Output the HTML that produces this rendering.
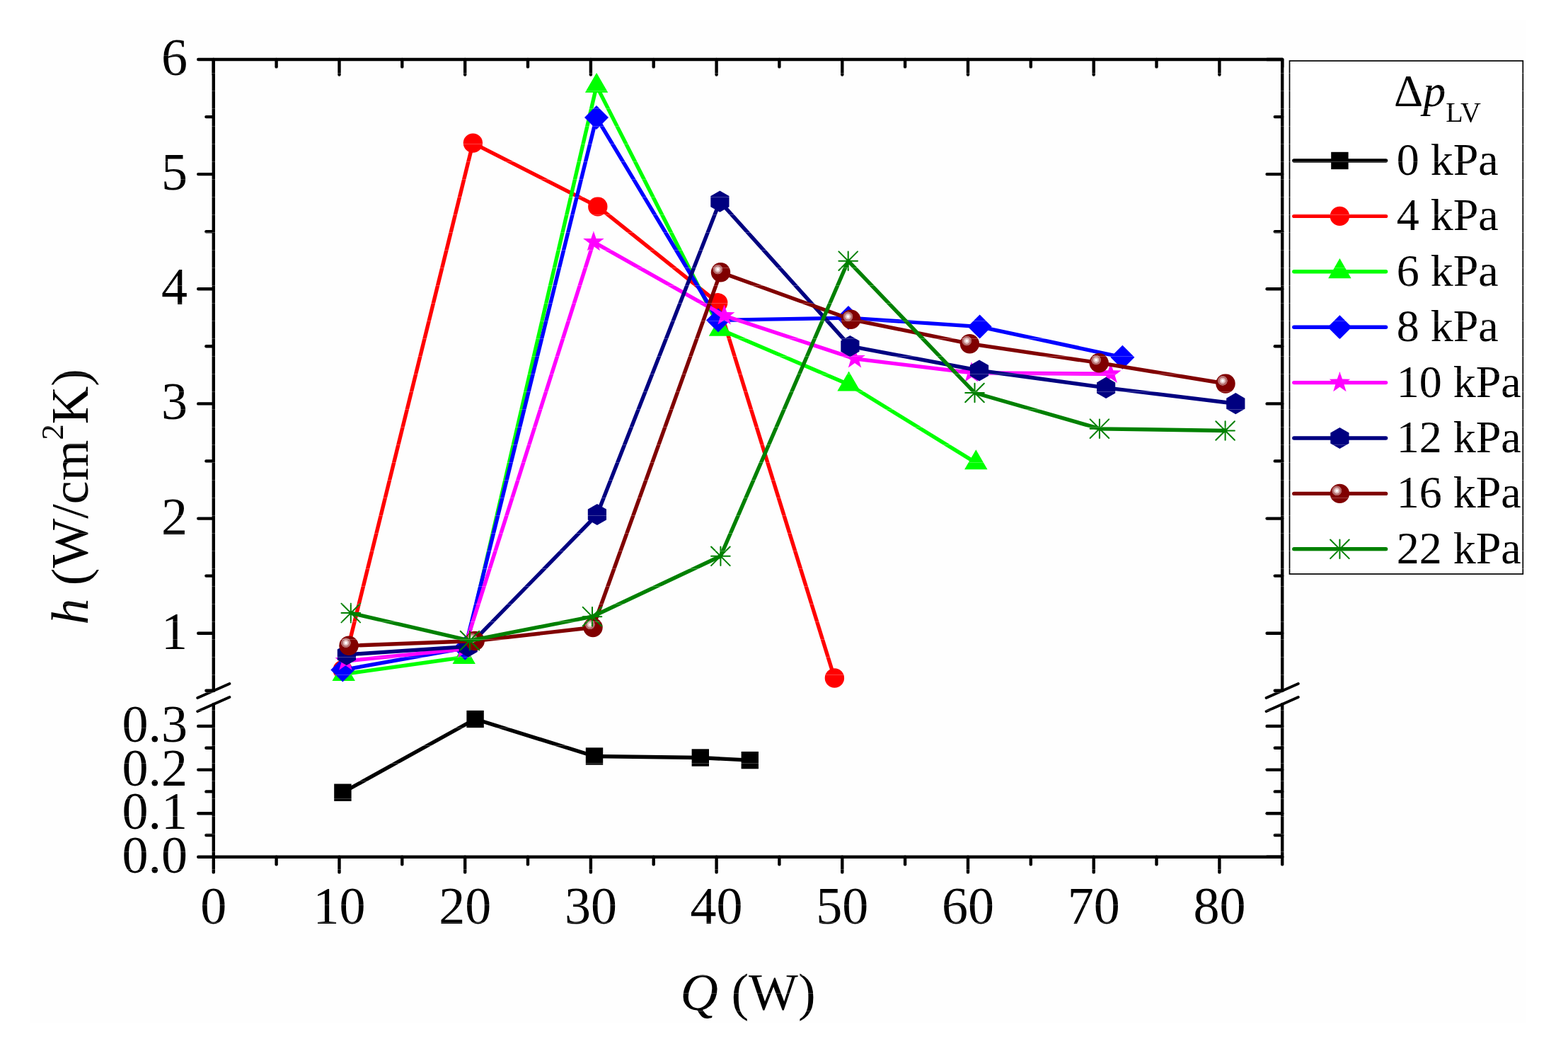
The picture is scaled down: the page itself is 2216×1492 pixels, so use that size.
<!DOCTYPE html>
<html><head><meta charset="utf-8"><title>h vs Q</title>
<style>html,body{margin:0;padding:0;background:#fff;}svg{display:block;}
text{font-family:'Liberation Serif','Times New Roman',serif;fill:#000;}</style></head><body>
<svg width="2216" height="1492" viewBox="0 0 2216 1492">
<defs>
<radialGradient id="hl" cx="0.5" cy="0.5" r="0.5">
<stop offset="0" stop-color="#ffffff"/><stop offset="0.18" stop-color="#ffffff"/>
<stop offset="0.32" stop-color="#e6c8c8"/><stop offset="0.55" stop-color="#d8b0b0"/>
<stop offset="0.62" stop-color="#b87272"/><stop offset="0.92" stop-color="#b06666"/>
<stop offset="1" stop-color="#800000"/>
</radialGradient>
</defs>
<rect x="0" y="0" width="2216" height="1492" fill="#ffffff"/>
<rect x="43" y="28" width="2113" height="1418" fill="#fefefe"/>

<g>
<polyline points="484.4,1119.7 671.6,1016.0 840.0,1068.5 989.8,1070.5 1059.8,1074.1" fill="none" stroke="#000000" stroke-width="5.4" stroke-linejoin="round" stroke-linecap="round"/>
<rect x="472.2" y="1107.5" width="24.4" height="24.4" fill="#000000"/>
<rect x="659.4" y="1003.8" width="24.4" height="24.4" fill="#000000"/>
<rect x="827.8" y="1056.3" width="24.4" height="24.4" fill="#000000"/>
<rect x="977.6" y="1058.3" width="24.4" height="24.4" fill="#000000"/>
<rect x="1047.6" y="1061.9" width="24.4" height="24.4" fill="#000000"/>
</g>
<g>
<polyline points="484.2,946.5 668.4,202.1 844.8,291.9 1014.7,427.8 1179.4,958.0" fill="none" stroke="#ff0000" stroke-width="5.4" stroke-linejoin="round" stroke-linecap="round"/>
<circle cx="484.2" cy="946.5" r="13.7" fill="#ff0000"/>
<circle cx="668.4" cy="202.1" r="13.7" fill="#ff0000"/>
<circle cx="844.8" cy="291.9" r="13.7" fill="#ff0000"/>
<circle cx="1014.7" cy="427.8" r="13.7" fill="#ff0000"/>
<circle cx="1179.4" cy="958.0" r="13.7" fill="#ff0000"/>
</g>
<g>
<polyline points="485.7,952.5 655.7,928.5 843.1,121.4 1018.0,465.4 1199.6,543.2 1379.3,653.9" fill="none" stroke="#00ff00" stroke-width="5.4" stroke-linejoin="round" stroke-linecap="round"/>
<polygon points="485.7,933.8 501.9,961.9 469.5,961.9" fill="#00ff00"/>
<polygon points="655.7,909.8 671.9,937.9 639.5,937.9" fill="#00ff00"/>
<polygon points="843.1,102.7 859.3,130.8 826.9,130.8" fill="#00ff00"/>
<polygon points="1018.0,446.7 1034.2,474.8 1001.8,474.8" fill="#00ff00"/>
<polygon points="1199.6,524.5 1215.8,552.6 1183.4,552.6" fill="#00ff00"/>
<polygon points="1379.3,635.2 1395.5,663.2 1363.1,663.2" fill="#00ff00"/>
</g>
<g>
<polyline points="484.3,946.6 657.3,915.7 843.0,166.0 1015.0,452.5 1199.0,449.1 1384.6,461.6 1586.4,504.8" fill="none" stroke="#0000ff" stroke-width="5.4" stroke-linejoin="round" stroke-linecap="round"/>
<polygon points="484.3,929.6 501.3,946.6 484.3,963.6 467.3,946.6" fill="#0000ff"/>
<polygon points="657.3,898.7 674.3,915.7 657.3,932.7 640.3,915.7" fill="#0000ff"/>
<polygon points="843.0,149.0 860.0,166.0 843.0,183.0 826.0,166.0" fill="#0000ff"/>
<polygon points="1015.0,435.5 1032.0,452.5 1015.0,469.5 998.0,452.5" fill="#0000ff"/>
<polygon points="1199.0,432.1 1216.0,449.1 1199.0,466.1 1182.0,449.1" fill="#0000ff"/>
<polygon points="1384.6,444.6 1401.6,461.6 1384.6,478.6 1367.6,461.6" fill="#0000ff"/>
<polygon points="1586.4,487.8 1603.4,504.8 1586.4,521.8 1569.4,504.8" fill="#0000ff"/>
</g>
<g>
<polyline points="488.4,934.1 656.0,916.9 838.9,341.9 1023.6,446.0 1208.0,506.9 1373.0,526.8 1569.7,528.3" fill="none" stroke="#ff00ff" stroke-width="5.4" stroke-linejoin="round" stroke-linecap="round"/>
<polygon points="488.4,918.5 492.0,929.1 503.2,929.3 494.3,936.0 497.6,946.7 488.4,940.3 479.2,946.7 482.5,936.0 473.6,929.3 484.8,929.1" fill="#ff00ff"/>
<polygon points="656.0,901.3 659.6,911.9 670.8,912.1 661.9,918.8 665.2,929.5 656.0,923.1 646.8,929.5 650.1,918.8 641.2,912.1 652.4,911.9" fill="#ff00ff"/>
<polygon points="838.9,326.3 842.5,336.9 853.7,337.1 844.8,343.8 848.1,354.5 838.9,348.1 829.7,354.5 833.0,343.8 824.1,337.1 835.3,336.9" fill="#ff00ff"/>
<polygon points="1023.6,430.4 1027.2,441.0 1038.4,441.2 1029.5,447.9 1032.8,458.6 1023.6,452.2 1014.4,458.6 1017.7,447.9 1008.8,441.2 1020.0,441.0" fill="#ff00ff"/>
<polygon points="1208.0,491.3 1211.6,501.9 1222.8,502.1 1213.9,508.8 1217.2,519.5 1208.0,513.1 1198.8,519.5 1202.1,508.8 1193.2,502.1 1204.4,501.9" fill="#ff00ff"/>
<polygon points="1373.0,511.2 1376.6,521.8 1387.8,522.0 1378.9,528.7 1382.2,539.4 1373.0,533.0 1363.8,539.4 1367.1,528.7 1358.2,522.0 1369.4,521.8" fill="#ff00ff"/>
<polygon points="1569.7,512.7 1573.3,523.3 1584.5,523.5 1575.6,530.2 1578.9,540.9 1569.7,534.5 1560.5,540.9 1563.8,530.2 1554.9,523.5 1566.1,523.3" fill="#ff00ff"/>
</g>
<g>
<polyline points="489.9,924.9 661.7,913.4 843.9,727.0 1017.4,284.7 1201.4,489.1 1384.0,523.5 1563.1,547.9 1746.3,570.2" fill="none" stroke="#000080" stroke-width="5.4" stroke-linejoin="round" stroke-linecap="round"/>
<polygon points="489.9,909.8 503.0,917.4 503.0,932.4 489.9,940.0 476.8,932.4 476.8,917.4" fill="#000080"/>
<polygon points="661.7,898.3 674.8,905.9 674.8,920.9 661.7,928.5 648.6,920.9 648.6,905.9" fill="#000080"/>
<polygon points="843.9,711.9 857.0,719.5 857.0,734.5 843.9,742.1 830.8,734.5 830.8,719.5" fill="#000080"/>
<polygon points="1017.4,269.6 1030.5,277.1 1030.5,292.2 1017.4,299.8 1004.3,292.2 1004.3,277.1" fill="#000080"/>
<polygon points="1201.4,474.0 1214.5,481.6 1214.5,496.7 1201.4,504.2 1188.3,496.7 1188.3,481.6" fill="#000080"/>
<polygon points="1384.0,508.4 1397.1,516.0 1397.1,531.0 1384.0,538.6 1370.9,531.0 1370.9,516.0" fill="#000080"/>
<polygon points="1563.1,532.8 1576.2,540.4 1576.2,555.4 1563.1,563.0 1550.0,555.4 1550.0,540.4" fill="#000080"/>
<polygon points="1746.3,555.1 1759.4,562.7 1759.4,577.8 1746.3,585.3 1733.2,577.8 1733.2,562.7" fill="#000080"/>
</g>
<g>
<polyline points="493.0,912.3 671.2,905.5 838.0,886.5 1018.5,384.7 1202.6,451.3 1370.4,485.7 1553.2,512.7 1732.0,542.0" fill="none" stroke="#800000" stroke-width="5.4" stroke-linejoin="round" stroke-linecap="round"/>
<circle cx="493.0" cy="912.3" r="13.7" fill="#800000"/><circle cx="488.9" cy="908.2" r="7.2" fill="url(#hl)"/>
<circle cx="671.2" cy="905.5" r="13.7" fill="#800000"/><circle cx="667.1" cy="901.4" r="7.2" fill="url(#hl)"/>
<circle cx="838.0" cy="886.5" r="13.7" fill="#800000"/><circle cx="833.9" cy="882.4" r="7.2" fill="url(#hl)"/>
<circle cx="1018.5" cy="384.7" r="13.7" fill="#800000"/><circle cx="1014.4" cy="380.6" r="7.2" fill="url(#hl)"/>
<circle cx="1202.6" cy="451.3" r="13.7" fill="#800000"/><circle cx="1198.5" cy="447.2" r="7.2" fill="url(#hl)"/>
<circle cx="1370.4" cy="485.7" r="13.7" fill="#800000"/><circle cx="1366.3" cy="481.6" r="7.2" fill="url(#hl)"/>
<circle cx="1553.2" cy="512.7" r="13.7" fill="#800000"/><circle cx="1549.1" cy="508.6" r="7.2" fill="url(#hl)"/>
<circle cx="1732.0" cy="542.0" r="13.7" fill="#800000"/><circle cx="1727.9" cy="537.9" r="7.2" fill="url(#hl)"/>
</g>
<g>
<polyline points="495.8,866.1 664.0,905.1 837.0,871.2 1018.4,785.8 1198.7,368.7 1377.5,555.0 1553.9,605.7 1731.6,608.5" fill="none" stroke="#008000" stroke-width="5.4" stroke-linejoin="round" stroke-linecap="round"/>
<path d="M482.5,866.1H509.1M495.8,852.8V879.4M482.5,852.8L509.1,879.4M482.5,879.4L509.1,852.8" stroke="#008000" stroke-width="2.0" stroke-linecap="round" fill="none"/>
<path d="M650.7,905.1H677.3M664.0,891.8V918.4M650.7,891.8L677.3,918.4M650.7,918.4L677.3,891.8" stroke="#008000" stroke-width="2.0" stroke-linecap="round" fill="none"/>
<path d="M823.7,871.2H850.3M837.0,857.9V884.5M823.7,857.9L850.3,884.5M823.7,884.5L850.3,857.9" stroke="#008000" stroke-width="2.0" stroke-linecap="round" fill="none"/>
<path d="M1005.1,785.8H1031.7M1018.4,772.5V799.1M1005.1,772.5L1031.7,799.1M1005.1,799.1L1031.7,772.5" stroke="#008000" stroke-width="2.0" stroke-linecap="round" fill="none"/>
<path d="M1185.4,368.7H1212.0M1198.7,355.4V382.0M1185.4,355.4L1212.0,382.0M1185.4,382.0L1212.0,355.4" stroke="#008000" stroke-width="2.0" stroke-linecap="round" fill="none"/>
<path d="M1364.2,555.0H1390.8M1377.5,541.7V568.3M1364.2,541.7L1390.8,568.3M1364.2,568.3L1390.8,541.7" stroke="#008000" stroke-width="2.0" stroke-linecap="round" fill="none"/>
<path d="M1540.6,605.7H1567.2M1553.9,592.4V619.0M1540.6,592.4L1567.2,619.0M1540.6,619.0L1567.2,592.4" stroke="#008000" stroke-width="2.0" stroke-linecap="round" fill="none"/>
<path d="M1718.3,608.5H1744.9M1731.6,595.2V621.8M1718.3,595.2L1744.9,621.8M1718.3,621.8L1744.9,595.2" stroke="#008000" stroke-width="2.0" stroke-linecap="round" fill="none"/>
</g>
<polyline points="301.8,976.0 301.8,84.0 1812.2,84.0 1812.2,976.0" fill="none" stroke="#000" stroke-width="4.4" stroke-linejoin="round" stroke-linecap="round"/>
<polyline points="301.8,995.0 301.8,1210.8 1812.2,1210.8 1812.2,995.0" fill="none" stroke="#000" stroke-width="4.4" stroke-linejoin="round" stroke-linecap="round"/>
<line x1="301.8" y1="1210.8" x2="301.8" y2="1232.4" stroke="#000" stroke-width="4.4" stroke-linecap="round"/>
<line x1="301.8" y1="84.0" x2="301.8" y2="105.6" stroke="#000" stroke-width="4.4" stroke-linecap="round"/>
<line x1="390.6" y1="1210.8" x2="390.6" y2="1221.2" stroke="#000" stroke-width="4.4" stroke-linecap="round"/>
<line x1="390.6" y1="84.0" x2="390.6" y2="94.4" stroke="#000" stroke-width="4.4" stroke-linecap="round"/>
<line x1="479.5" y1="1210.8" x2="479.5" y2="1232.4" stroke="#000" stroke-width="4.4" stroke-linecap="round"/>
<line x1="479.5" y1="84.0" x2="479.5" y2="105.6" stroke="#000" stroke-width="4.4" stroke-linecap="round"/>
<line x1="568.3" y1="1210.8" x2="568.3" y2="1221.2" stroke="#000" stroke-width="4.4" stroke-linecap="round"/>
<line x1="568.3" y1="84.0" x2="568.3" y2="94.4" stroke="#000" stroke-width="4.4" stroke-linecap="round"/>
<line x1="657.2" y1="1210.8" x2="657.2" y2="1232.4" stroke="#000" stroke-width="4.4" stroke-linecap="round"/>
<line x1="657.2" y1="84.0" x2="657.2" y2="105.6" stroke="#000" stroke-width="4.4" stroke-linecap="round"/>
<line x1="746.0" y1="1210.8" x2="746.0" y2="1221.2" stroke="#000" stroke-width="4.4" stroke-linecap="round"/>
<line x1="746.0" y1="84.0" x2="746.0" y2="94.4" stroke="#000" stroke-width="4.4" stroke-linecap="round"/>
<line x1="834.9" y1="1210.8" x2="834.9" y2="1232.4" stroke="#000" stroke-width="4.4" stroke-linecap="round"/>
<line x1="834.9" y1="84.0" x2="834.9" y2="105.6" stroke="#000" stroke-width="4.4" stroke-linecap="round"/>
<line x1="923.7" y1="1210.8" x2="923.7" y2="1221.2" stroke="#000" stroke-width="4.4" stroke-linecap="round"/>
<line x1="923.7" y1="84.0" x2="923.7" y2="94.4" stroke="#000" stroke-width="4.4" stroke-linecap="round"/>
<line x1="1012.6" y1="1210.8" x2="1012.6" y2="1232.4" stroke="#000" stroke-width="4.4" stroke-linecap="round"/>
<line x1="1012.6" y1="84.0" x2="1012.6" y2="105.6" stroke="#000" stroke-width="4.4" stroke-linecap="round"/>
<line x1="1101.4" y1="1210.8" x2="1101.4" y2="1221.2" stroke="#000" stroke-width="4.4" stroke-linecap="round"/>
<line x1="1101.4" y1="84.0" x2="1101.4" y2="94.4" stroke="#000" stroke-width="4.4" stroke-linecap="round"/>
<line x1="1190.3" y1="1210.8" x2="1190.3" y2="1232.4" stroke="#000" stroke-width="4.4" stroke-linecap="round"/>
<line x1="1190.3" y1="84.0" x2="1190.3" y2="105.6" stroke="#000" stroke-width="4.4" stroke-linecap="round"/>
<line x1="1279.1" y1="1210.8" x2="1279.1" y2="1221.2" stroke="#000" stroke-width="4.4" stroke-linecap="round"/>
<line x1="1279.1" y1="84.0" x2="1279.1" y2="94.4" stroke="#000" stroke-width="4.4" stroke-linecap="round"/>
<line x1="1368.0" y1="1210.8" x2="1368.0" y2="1232.4" stroke="#000" stroke-width="4.4" stroke-linecap="round"/>
<line x1="1368.0" y1="84.0" x2="1368.0" y2="105.6" stroke="#000" stroke-width="4.4" stroke-linecap="round"/>
<line x1="1456.8" y1="1210.8" x2="1456.8" y2="1221.2" stroke="#000" stroke-width="4.4" stroke-linecap="round"/>
<line x1="1456.8" y1="84.0" x2="1456.8" y2="94.4" stroke="#000" stroke-width="4.4" stroke-linecap="round"/>
<line x1="1545.7" y1="1210.8" x2="1545.7" y2="1232.4" stroke="#000" stroke-width="4.4" stroke-linecap="round"/>
<line x1="1545.7" y1="84.0" x2="1545.7" y2="105.6" stroke="#000" stroke-width="4.4" stroke-linecap="round"/>
<line x1="1634.5" y1="1210.8" x2="1634.5" y2="1221.2" stroke="#000" stroke-width="4.4" stroke-linecap="round"/>
<line x1="1634.5" y1="84.0" x2="1634.5" y2="94.4" stroke="#000" stroke-width="4.4" stroke-linecap="round"/>
<line x1="1723.4" y1="1210.8" x2="1723.4" y2="1232.4" stroke="#000" stroke-width="4.4" stroke-linecap="round"/>
<line x1="1723.4" y1="84.0" x2="1723.4" y2="105.6" stroke="#000" stroke-width="4.4" stroke-linecap="round"/>
<line x1="1812.2" y1="1210.8" x2="1812.2" y2="1221.2" stroke="#000" stroke-width="4.4" stroke-linecap="round"/>
<line x1="1812.2" y1="84.0" x2="1812.2" y2="94.4" stroke="#000" stroke-width="4.4" stroke-linecap="round"/>
<line x1="291.4" y1="975.8" x2="301.8" y2="975.8" stroke="#000" stroke-width="4.4" stroke-linecap="round"/>
<line x1="1801.8" y1="975.8" x2="1812.2" y2="975.8" stroke="#000" stroke-width="4.4" stroke-linecap="round"/>
<line x1="280.2" y1="894.7" x2="301.8" y2="894.7" stroke="#000" stroke-width="4.4" stroke-linecap="round"/>
<line x1="1790.6" y1="894.7" x2="1812.2" y2="894.7" stroke="#000" stroke-width="4.4" stroke-linecap="round"/>
<line x1="291.4" y1="813.6" x2="301.8" y2="813.6" stroke="#000" stroke-width="4.4" stroke-linecap="round"/>
<line x1="1801.8" y1="813.6" x2="1812.2" y2="813.6" stroke="#000" stroke-width="4.4" stroke-linecap="round"/>
<line x1="280.2" y1="732.6" x2="301.8" y2="732.6" stroke="#000" stroke-width="4.4" stroke-linecap="round"/>
<line x1="1790.6" y1="732.6" x2="1812.2" y2="732.6" stroke="#000" stroke-width="4.4" stroke-linecap="round"/>
<line x1="291.4" y1="651.5" x2="301.8" y2="651.5" stroke="#000" stroke-width="4.4" stroke-linecap="round"/>
<line x1="1801.8" y1="651.5" x2="1812.2" y2="651.5" stroke="#000" stroke-width="4.4" stroke-linecap="round"/>
<line x1="280.2" y1="570.4" x2="301.8" y2="570.4" stroke="#000" stroke-width="4.4" stroke-linecap="round"/>
<line x1="1790.6" y1="570.4" x2="1812.2" y2="570.4" stroke="#000" stroke-width="4.4" stroke-linecap="round"/>
<line x1="291.4" y1="489.3" x2="301.8" y2="489.3" stroke="#000" stroke-width="4.4" stroke-linecap="round"/>
<line x1="1801.8" y1="489.3" x2="1812.2" y2="489.3" stroke="#000" stroke-width="4.4" stroke-linecap="round"/>
<line x1="280.2" y1="408.3" x2="301.8" y2="408.3" stroke="#000" stroke-width="4.4" stroke-linecap="round"/>
<line x1="1790.6" y1="408.3" x2="1812.2" y2="408.3" stroke="#000" stroke-width="4.4" stroke-linecap="round"/>
<line x1="291.4" y1="327.2" x2="301.8" y2="327.2" stroke="#000" stroke-width="4.4" stroke-linecap="round"/>
<line x1="1801.8" y1="327.2" x2="1812.2" y2="327.2" stroke="#000" stroke-width="4.4" stroke-linecap="round"/>
<line x1="280.2" y1="246.1" x2="301.8" y2="246.1" stroke="#000" stroke-width="4.4" stroke-linecap="round"/>
<line x1="1790.6" y1="246.1" x2="1812.2" y2="246.1" stroke="#000" stroke-width="4.4" stroke-linecap="round"/>
<line x1="291.4" y1="165.1" x2="301.8" y2="165.1" stroke="#000" stroke-width="4.4" stroke-linecap="round"/>
<line x1="1801.8" y1="165.1" x2="1812.2" y2="165.1" stroke="#000" stroke-width="4.4" stroke-linecap="round"/>
<line x1="280.2" y1="84.0" x2="301.8" y2="84.0" stroke="#000" stroke-width="4.4" stroke-linecap="round"/>
<line x1="1790.6" y1="84.0" x2="1812.2" y2="84.0" stroke="#000" stroke-width="4.4" stroke-linecap="round"/>
<line x1="280.2" y1="1210.8" x2="301.8" y2="1210.8" stroke="#000" stroke-width="4.4" stroke-linecap="round"/>
<line x1="1790.6" y1="1210.8" x2="1812.2" y2="1210.8" stroke="#000" stroke-width="4.4" stroke-linecap="round"/>
<line x1="291.4" y1="1180.0" x2="301.8" y2="1180.0" stroke="#000" stroke-width="4.4" stroke-linecap="round"/>
<line x1="1801.8" y1="1180.0" x2="1812.2" y2="1180.0" stroke="#000" stroke-width="4.4" stroke-linecap="round"/>
<line x1="280.2" y1="1149.2" x2="301.8" y2="1149.2" stroke="#000" stroke-width="4.4" stroke-linecap="round"/>
<line x1="1790.6" y1="1149.2" x2="1812.2" y2="1149.2" stroke="#000" stroke-width="4.4" stroke-linecap="round"/>
<line x1="291.4" y1="1118.4" x2="301.8" y2="1118.4" stroke="#000" stroke-width="4.4" stroke-linecap="round"/>
<line x1="1801.8" y1="1118.4" x2="1812.2" y2="1118.4" stroke="#000" stroke-width="4.4" stroke-linecap="round"/>
<line x1="280.2" y1="1087.6" x2="301.8" y2="1087.6" stroke="#000" stroke-width="4.4" stroke-linecap="round"/>
<line x1="1790.6" y1="1087.6" x2="1812.2" y2="1087.6" stroke="#000" stroke-width="4.4" stroke-linecap="round"/>
<line x1="291.4" y1="1056.8" x2="301.8" y2="1056.8" stroke="#000" stroke-width="4.4" stroke-linecap="round"/>
<line x1="1801.8" y1="1056.8" x2="1812.2" y2="1056.8" stroke="#000" stroke-width="4.4" stroke-linecap="round"/>
<line x1="280.2" y1="1026.0" x2="301.8" y2="1026.0" stroke="#000" stroke-width="4.4" stroke-linecap="round"/>
<line x1="1790.6" y1="1026.0" x2="1812.2" y2="1026.0" stroke="#000" stroke-width="4.4" stroke-linecap="round"/>
<line x1="279.2" y1="986.0" x2="324.4" y2="966.0" stroke="#000" stroke-width="4.0" stroke-linecap="round"/>
<line x1="279.2" y1="1005.0" x2="324.4" y2="985.0" stroke="#000" stroke-width="4.0" stroke-linecap="round"/>
<line x1="1789.6" y1="986.0" x2="1834.8" y2="966.0" stroke="#000" stroke-width="4.0" stroke-linecap="round"/>
<line x1="1789.6" y1="1005.0" x2="1834.8" y2="985.0" stroke="#000" stroke-width="4.0" stroke-linecap="round"/>
<text x="301.8" y="1305" font-size="74" text-anchor="middle">0</text>
<text x="479.5" y="1305" font-size="74" text-anchor="middle">10</text>
<text x="657.2" y="1305" font-size="74" text-anchor="middle">20</text>
<text x="834.9" y="1305" font-size="74" text-anchor="middle">30</text>
<text x="1012.6" y="1305" font-size="74" text-anchor="middle">40</text>
<text x="1190.3" y="1305" font-size="74" text-anchor="middle">50</text>
<text x="1368.0" y="1305" font-size="74" text-anchor="middle">60</text>
<text x="1545.7" y="1305" font-size="74" text-anchor="middle">70</text>
<text x="1723.4" y="1305" font-size="74" text-anchor="middle">80</text>
<text x="265" y="916.7" font-size="74" text-anchor="end">1</text>
<text x="265" y="754.6" font-size="74" text-anchor="end">2</text>
<text x="265" y="592.4" font-size="74" text-anchor="end">3</text>
<text x="265" y="430.3" font-size="74" text-anchor="end">4</text>
<text x="265" y="268.1" font-size="74" text-anchor="end">5</text>
<text x="265" y="106.0" font-size="74" text-anchor="end">6</text>
<text x="265" y="1232.8" font-size="74" text-anchor="end">0.0</text>
<text x="265" y="1171.2" font-size="74" text-anchor="end">0.1</text>
<text x="265" y="1109.6" font-size="74" text-anchor="end">0.2</text>
<text x="265" y="1048.0" font-size="74" text-anchor="end">0.3</text>
<text x="1057" y="1427" font-size="74" text-anchor="middle"><tspan font-style="italic">Q</tspan> (W)</text>
<text transform="translate(124,702) rotate(-90)" font-size="74" text-anchor="middle"><tspan font-style="italic">h</tspan> (W/cm<tspan font-size="45" dy="-35">2</tspan><tspan dy="35">K)</tspan></text>
<rect x="1822.5" y="86" width="329.8" height="725" fill="#ffffff" stroke="#000" stroke-width="1.7"/>
<text x="1970" y="150" font-size="64"><tspan>&#916;</tspan><tspan font-style="italic">p</tspan><tspan font-size="40" dy="22">LV</tspan></text>
<line x1="1828.8" y1="227.0" x2="1958.6" y2="227.0" stroke="#000000" stroke-width="5.4" stroke-linecap="round"/>
<rect x="1881.2" y="214.8" width="24.4" height="24.4" fill="#000000"/>
<text x="1973.7" y="246.9" font-size="64">0 kPa</text>
<line x1="1828.8" y1="305.4" x2="1958.6" y2="305.4" stroke="#ff0000" stroke-width="5.4" stroke-linecap="round"/>
<circle cx="1893.4" cy="305.4" r="13.7" fill="#ff0000"/>
<text x="1973.7" y="325.3" font-size="64">4 kPa</text>
<line x1="1828.8" y1="383.8" x2="1958.6" y2="383.8" stroke="#00ff00" stroke-width="5.4" stroke-linecap="round"/>
<polygon points="1893.4,365.1 1909.6,393.2 1877.2,393.2" fill="#00ff00"/>
<text x="1973.7" y="403.7" font-size="64">6 kPa</text>
<line x1="1828.8" y1="462.2" x2="1958.6" y2="462.2" stroke="#0000ff" stroke-width="5.4" stroke-linecap="round"/>
<polygon points="1893.4,445.2 1910.4,462.2 1893.4,479.2 1876.4,462.2" fill="#0000ff"/>
<text x="1973.7" y="482.1" font-size="64">8 kPa</text>
<line x1="1828.8" y1="540.6" x2="1958.6" y2="540.6" stroke="#ff00ff" stroke-width="5.4" stroke-linecap="round"/>
<polygon points="1893.4,525.0 1897.0,535.6 1908.2,535.8 1899.3,542.5 1902.6,553.2 1893.4,546.8 1884.2,553.2 1887.5,542.5 1878.6,535.8 1889.8,535.6" fill="#ff00ff"/>
<text x="1973.7" y="560.5" font-size="64">10 kPa</text>
<line x1="1828.8" y1="619.0" x2="1958.6" y2="619.0" stroke="#000080" stroke-width="5.4" stroke-linecap="round"/>
<polygon points="1893.4,603.9 1906.5,611.5 1906.5,626.5 1893.4,634.1 1880.3,626.5 1880.3,611.5" fill="#000080"/>
<text x="1973.7" y="638.9" font-size="64">12 kPa</text>
<line x1="1828.8" y1="697.4" x2="1958.6" y2="697.4" stroke="#800000" stroke-width="5.4" stroke-linecap="round"/>
<circle cx="1893.4" cy="697.4" r="13.7" fill="#800000"/><circle cx="1889.3" cy="693.3" r="7.2" fill="url(#hl)"/>
<text x="1973.7" y="717.3" font-size="64">16 kPa</text>
<line x1="1828.8" y1="775.8" x2="1958.6" y2="775.8" stroke="#008000" stroke-width="5.4" stroke-linecap="round"/>
<path d="M1880.1,775.8H1906.7M1893.4,762.5V789.1M1880.1,762.5L1906.7,789.1M1880.1,789.1L1906.7,762.5" stroke="#008000" stroke-width="2.0" stroke-linecap="round" fill="none"/>
<text x="1973.7" y="795.7" font-size="64">22 kPa</text>
<g fill="#ffffff" opacity="0.25"><rect x="0" y="3" width="2216" height="1"/><rect x="0" y="28" width="2216" height="1"/><rect x="0" y="53" width="2216" height="1"/><rect x="0" y="78" width="2216" height="1"/><rect x="0" y="103" width="2216" height="1"/><rect x="0" y="128" width="2216" height="1"/><rect x="0" y="153" width="2216" height="1"/><rect x="0" y="178" width="2216" height="1"/><rect x="0" y="203" width="2216" height="1"/><rect x="0" y="228" width="2216" height="1"/><rect x="0" y="253" width="2216" height="1"/><rect x="0" y="278" width="2216" height="1"/><rect x="0" y="303" width="2216" height="1"/><rect x="0" y="328" width="2216" height="1"/><rect x="0" y="353" width="2216" height="1"/><rect x="0" y="378" width="2216" height="1"/><rect x="0" y="403" width="2216" height="1"/><rect x="0" y="428" width="2216" height="1"/><rect x="0" y="453" width="2216" height="1"/><rect x="0" y="478" width="2216" height="1"/><rect x="0" y="503" width="2216" height="1"/><rect x="0" y="528" width="2216" height="1"/><rect x="0" y="553" width="2216" height="1"/><rect x="0" y="578" width="2216" height="1"/><rect x="0" y="603" width="2216" height="1"/><rect x="0" y="628" width="2216" height="1"/><rect x="0" y="653" width="2216" height="1"/><rect x="0" y="678" width="2216" height="1"/><rect x="0" y="703" width="2216" height="1"/><rect x="0" y="728" width="2216" height="1"/><rect x="0" y="753" width="2216" height="1"/><rect x="0" y="778" width="2216" height="1"/><rect x="0" y="803" width="2216" height="1"/><rect x="0" y="828" width="2216" height="1"/><rect x="0" y="853" width="2216" height="1"/><rect x="0" y="878" width="2216" height="1"/><rect x="0" y="903" width="2216" height="1"/><rect x="0" y="928" width="2216" height="1"/><rect x="0" y="953" width="2216" height="1"/><rect x="0" y="978" width="2216" height="1"/><rect x="0" y="1003" width="2216" height="1"/><rect x="0" y="1028" width="2216" height="1"/><rect x="0" y="1053" width="2216" height="1"/><rect x="0" y="1078" width="2216" height="1"/><rect x="0" y="1103" width="2216" height="1"/><rect x="0" y="1128" width="2216" height="1"/><rect x="0" y="1153" width="2216" height="1"/><rect x="0" y="1178" width="2216" height="1"/><rect x="0" y="1203" width="2216" height="1"/><rect x="0" y="1228" width="2216" height="1"/><rect x="0" y="1253" width="2216" height="1"/><rect x="0" y="1278" width="2216" height="1"/><rect x="0" y="1303" width="2216" height="1"/><rect x="0" y="1328" width="2216" height="1"/><rect x="0" y="1353" width="2216" height="1"/><rect x="0" y="1378" width="2216" height="1"/><rect x="0" y="1403" width="2216" height="1"/><rect x="0" y="1428" width="2216" height="1"/><rect x="0" y="1453" width="2216" height="1"/><rect x="0" y="1478" width="2216" height="1"/></g>
</svg></body></html>
